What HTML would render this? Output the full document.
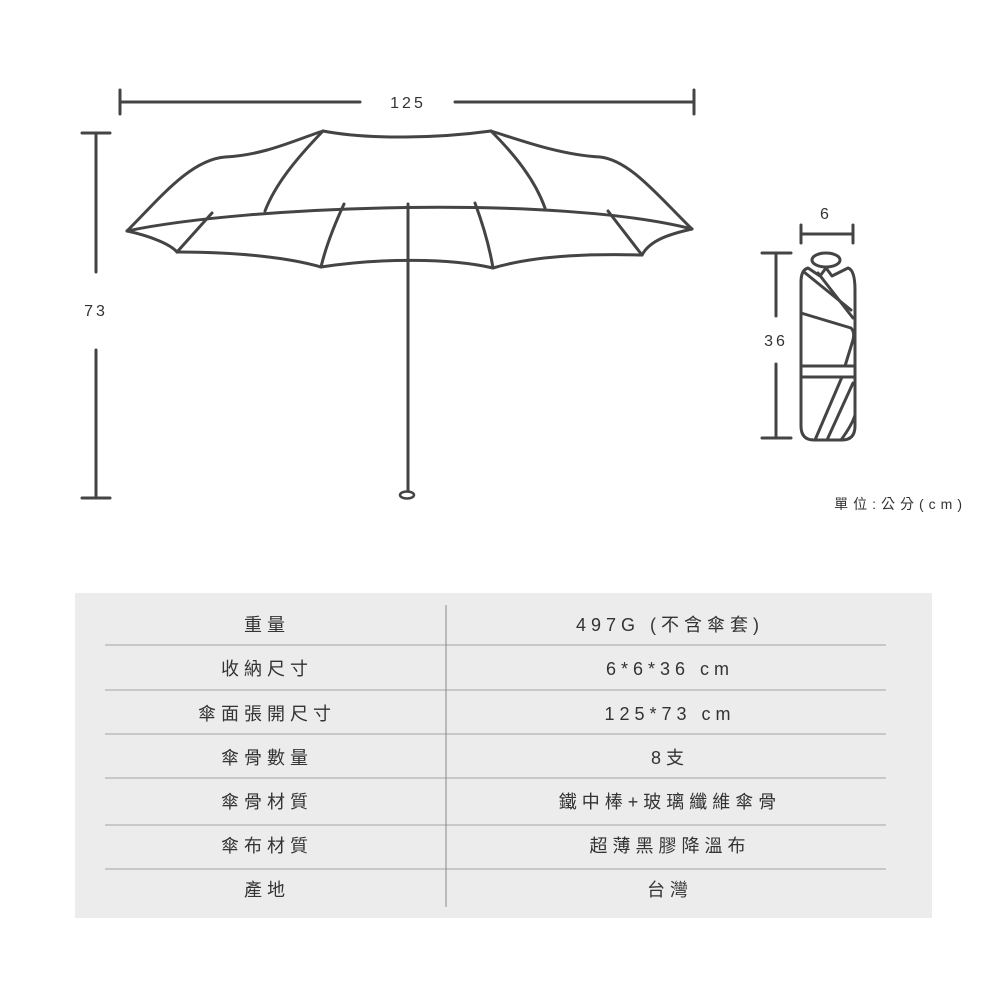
<!DOCTYPE html>
<html><head><meta charset="utf-8"><style>
html,body{margin:0;padding:0;background:#fff;width:1000px;height:1000px;overflow:hidden}
text{font-family:"Liberation Sans","Noto Sans CJK TC",sans-serif;fill:#333}
</style></head><body>
<svg width="1000" height="1000" viewBox="0 0 1000 1000" xmlns="http://www.w3.org/2000/svg">
<g stroke="#444" fill="none" stroke-width="3" stroke-linecap="round" stroke-linejoin="round">
<line x1="120" y1="102" x2="360" y2="102"/><line x1="455" y1="102" x2="694" y2="102"/>
<line x1="120" y1="90" x2="120" y2="114"/><line x1="694" y1="90" x2="694" y2="114"/>
<line x1="96" y1="133" x2="96" y2="272"/><line x1="96" y1="350" x2="96" y2="498"/>
<line x1="82" y1="133" x2="110" y2="133"/><line x1="82" y1="498" x2="110" y2="498"/>
<path d="M127 231 C160 198 190 160 225 157 C265 155 295 140 323 131"/>
<path d="M692 229 C660 198 630 160 600 157 C560 155 520 140 491 131"/>
<path d="M323 131 C370 140 440 138 491 131"/>
<path d="M323 131 C295 160 275 185 265 211"/>
<path d="M491 131 C515 155 535 180 545 208"/>
<path d="M127 231 C250 205 560 195 692 229"/>
<path d="M127 231 C150 236 170 244 177 252"/>
<path d="M177 252 C240 252 290 258 321 267"/>
<path d="M321 267 C380 258 450 258 493 268"/>
<path d="M493 268 C540 254 600 254 642 255"/>
<path d="M642 255 C650 240 670 234 692 229"/>
<path d="M212 213 L177 252"/><path d="M344 204 C332 230 325 250 321 267"/>
<path d="M475 203 C485 230 490 250 493 268"/><path d="M608 211 L642 255"/>
<line x1="408" y1="204" x2="408" y2="490"/>
<ellipse cx="407" cy="495" rx="7" ry="3.5" stroke-width="2.5"/>
<line x1="801" y1="234" x2="853" y2="234"/><line x1="801" y1="225" x2="801" y2="243"/><line x1="853" y1="225" x2="853" y2="243"/>
<line x1="776" y1="253" x2="776" y2="316"/><line x1="776" y1="364" x2="776" y2="438"/>
<line x1="762" y1="253" x2="791" y2="253"/><line x1="762" y1="438" x2="791" y2="438"/>
<ellipse cx="826" cy="260" rx="14" ry="7"/>
<path d="M814 440 Q801 440 801 426 L801 282 Q801 270 808 268 L820 276 L826 268 L832 276 L848 268 Q855 270 855 290 L855 426 Q855 440 842 440 Z"/>
<path d="M804 272 L851 310"/><path d="M818 273 L853 318"/>
<path d="M801 313 L851 328 Q855 332 853 340 L845 366"/>
<line x1="801" y1="366" x2="855" y2="366"/><line x1="801" y1="377" x2="855" y2="377"/>
<path d="M815 440 L842 377"/><path d="M827 440 L853 383"/><path d="M841 440 Q852 425 855 415"/>
</g>
<g font-size="16" letter-spacing="3">
<text x="408" y="108" text-anchor="middle">125</text>
<text x="96" y="316" text-anchor="middle">73</text>
<text x="826" y="219" text-anchor="middle">6</text>
<text x="776" y="346" text-anchor="middle">36</text>
</g>
<text x="967" y="509" text-anchor="end" font-size="14" letter-spacing="5">單位:公分(cm)</text>
<rect x="75" y="593" width="857" height="325" fill="#ececec"/>
<g stroke="#bbb" stroke-width="1.5">
<line x1="105" y1="645" x2="886" y2="645"/><line x1="105" y1="690" x2="886" y2="690"/>
<line x1="105" y1="734" x2="886" y2="734"/><line x1="105" y1="778" x2="886" y2="778"/>
<line x1="105" y1="825" x2="886" y2="825"/><line x1="105" y1="869" x2="886" y2="869"/>
</g>
<line x1="446" y1="605" x2="446" y2="907" stroke="#888" stroke-width="1"/>
<g font-size="18" letter-spacing="5" text-anchor="middle">
<text x="267" y="631">重量</text><text x="670" y="631">497G (不含傘套)</text>
<text x="267" y="675">收納尺寸</text><text x="670" y="675">6*6*36 cm</text>
<text x="267" y="720">傘面張開尺寸</text><text x="670" y="720">125*73 cm</text>
<text x="267" y="764">傘骨數量</text><text x="670" y="764">8支</text>
<text x="267" y="808">傘骨材質</text><text x="670" y="808">鐵中棒+玻璃纖維傘骨</text>
<text x="267" y="852">傘布材質</text><text x="670" y="852">超薄黑膠降溫布</text>
<text x="267" y="896">產地</text><text x="670" y="896">台灣</text>
</g>
</svg>
</body></html>
